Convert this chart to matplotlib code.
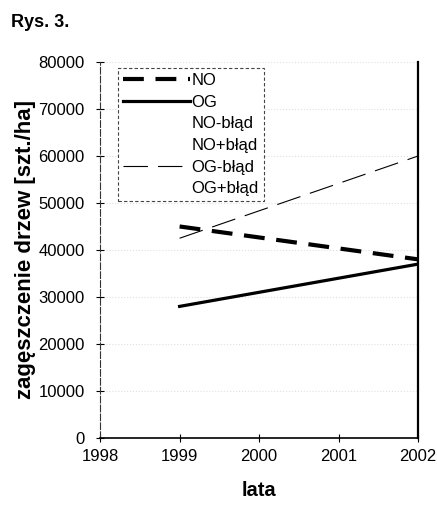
import matplotlib
matplotlib.use("Agg")
import matplotlib.pyplot as plt
from matplotlib.lines import Line2D

years = [1999, 2002]
no_values = [45000, 38000]
og_values = [28000, 37000]
og_minus_err = [42500, 60000]

x_ticks = [1998, 1999, 2000, 2001, 2002]
y_ticks = [0, 10000, 20000, 30000, 40000, 50000, 60000, 70000, 80000]

plt.rcParams["font.family"] = ["Liberation Sans", "DejaVu Sans"]

fig = plt.figure(figsize=(4.37, 5.12), dpi=100)
ax = fig.add_axes([0.229, 0.1445, 0.728, 0.7345])

ax.plot(years, no_values, color="black", linewidth=3.0, linestyle=(0, (5, 2.8)))
ax.plot(years, og_values, color="black", linewidth=2.3)
ax.plot(years, og_minus_err, color="black", linewidth=0.8, linestyle=(0, (22, 9)))

ax.set_xlim(1998, 2002)
ax.set_ylim(0, 80000)
ax.set_xticks(x_ticks)
ax.set_xticklabels([str(v) for v in x_ticks])
ax.set_yticks(y_ticks)
ax.set_yticklabels([str(v) for v in y_ticks])
ax.tick_params(axis="both", direction="inout", length=6, width=0.8, labelsize=12)
ax.tick_params(axis="y", pad=8)
ax.tick_params(axis="x", pad=5)

ax.spines["top"].set_visible(False)
ax.spines["left"].set_linestyle((0, (6, 2)))
ax.spines["left"].set_color("#333333")
ax.spines["right"].set_linewidth(1.6)
ax.spines["bottom"].set_linewidth(1.2)
ax.grid(axis="y", linestyle=":", color="#e0e0e0", linewidth=0.8)

ax.set_xlabel("lata", fontsize=14.5, fontweight="bold", labelpad=12)
ax.set_ylabel("zagęszczenie drzew [szt./ha]", fontsize=16, fontweight="bold", labelpad=2)
fig.text(0.025, 0.957, "Rys. 3.", fontsize=13, fontweight="bold", ha="left", va="center")

handles = [
    Line2D([], [], color="black", linewidth=3.0, linestyle=(0, (5, 2.8))),
    Line2D([], [], color="black", linewidth=2.3),
    Line2D([], [], color="none"),
    Line2D([], [], color="none"),
    Line2D([], [], color="black", linewidth=0.8, linestyle=(0, (22, 9))),
    Line2D([], [], color="none"),
]
labels = ["NO", "OG", "NO-błąd", "NO+błąd", "OG-błąd", "OG+błąd"]
leg = ax.legend(handles, labels, loc="upper left", bbox_to_anchor=(0.057, 0.984),
                borderaxespad=0, fontsize=12, handlelength=4.0, handletextpad=0.1,
                labelspacing=0.4, borderpad=0.3, fancybox=False, framealpha=1)
leg.get_frame().set_edgecolor("#444444")
leg.get_frame().set_linestyle((0, (3, 2)))
leg.get_frame().set_linewidth(0.8)

fig.savefig("out.png", dpi=100)
